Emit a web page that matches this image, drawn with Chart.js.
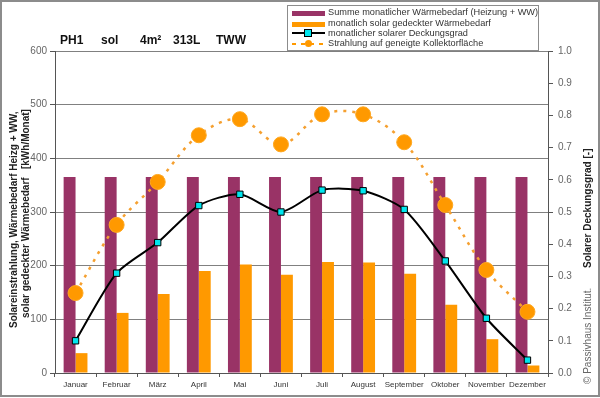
<!DOCTYPE html>
<html>
<head>
<meta charset="utf-8">
<script src="https://cdn.jsdelivr.net/npm/chart.js@4.4.1/dist/chart.umd.min.js"></script>
<style>
  body { margin:0; background:#fff; font-family:"Liberation Sans", Arial, sans-serif; }
  #wrap { position:relative; width:600px; height:398px; overflow:hidden; }
  #frame { position:absolute; left:0; top:0; width:596px; height:393px; border:2px solid #8c8c8c; pointer-events:none; }
  .title { position:absolute; top:33px; font-size:12px; font-weight:bold; color:#111; }
  #legend { position:absolute; left:287px; top:5px; width:250px; height:44px; border:1px solid #8c8c8c; background:#fff; font-size:9.2px; color:#333; }
  .li { position:absolute; left:40px; white-space:nowrap; }
  .sw { position:absolute; left:4px; width:33px; }
  .vt { position:absolute; white-space:nowrap; transform-origin:0 0; transform:rotate(-90deg); }
</style>
</head>
<body>
<div id="wrap">
  <canvas id="chart" width="600" height="398"></canvas>
  <div class="title" style="left:60px">PH1</div>
  <div class="title" style="left:101px">sol</div>
  <div class="title" style="left:140px">4m²</div>
  <div class="title" style="left:173px">313L</div>
  <div class="title" style="left:216px">TWW</div>

  <div id="legend">
    <div class="sw" style="top:5px;height:5px;background:#993366"></div>
    <div class="li" style="top:1px">Summe monatlicher Wärmebedarf (Heizung + WW)</div>
    <div class="sw" style="top:16px;height:5px;background:#ff9900"></div>
    <div class="li" style="top:12px">monatlich solar gedeckter Wärmebedarf</div>
    <div class="sw" style="top:26px;height:2px;background:#000"></div>
    <div style="position:absolute;left:16px;top:23px;width:6px;height:6px;background:#00e5ee;border:1px solid #000"></div>
    <div class="li" style="top:22px">monatlicher solarer Deckungsgrad</div>
    <div class="sw" style="top:37px;height:2px;background:repeating-linear-gradient(90deg,#ff9900 0 4px,transparent 4px 9px)"></div>
    <div style="position:absolute;left:17px;top:34px;width:7px;height:7px;border-radius:50%;background:#ff9900"></div>
    <div class="li" style="top:32px">Strahlung auf geneigte Kollektorfläche</div>
  </div>

  <div class="vt" style="left:8px;top:328px;font-size:10px;font-weight:bold;color:#222">Solareinstrahlung, Wärmebedarf Heizg + WW,</div>
  <div class="vt" style="left:20px;top:318px;font-size:10px;font-weight:bold;color:#222">solar gedeckter Wärmebedarf&nbsp;&nbsp;&nbsp;[kWh/Monat]</div>
  <div class="vt" style="left:582px;top:268px;font-size:10px;font-weight:bold;color:#222">Solarer Deckungsgrad [-]</div>
  <div class="vt" style="left:582px;top:384px;font-size:10px;color:#666">© Passivhaus Institut.</div>
  <div id="frame"></div>
</div>
<script>
const months = ['Januar','Februar','März','April','Mai','Juni','Juli','August','September','Oktober','November','Dezember'];
const waermebedarf = [365,365,365,365,365,365,365,365,365,365,365,365];
const solarGedeckt = [37,112,147,190,202,183,207,206,185,127,63,14];
const deckungsgrad = [0.10,0.31,0.405,0.52,0.555,0.50,0.568,0.566,0.508,0.348,0.17,0.04];
const strahlung = [149,276,356,443,473,426,482,482,430,313,192,114];
const leftTicks = [0,100,200,300,400,500,600];
const rightTicks = [0,0.1,0.2,0.3,0.4,0.5,0.6,0.7,0.8,0.9,1.0];

const tickFont = { family:'"Liberation Sans", Arial, sans-serif', size:10 };

new Chart(document.getElementById('chart'), {
  type: 'bar',
  data: {
    labels: months,
    datasets: [
      { type:'line', label:'Strahlung auf geneigte Kollektorfläche', data:strahlung, yAxisID:'y',
        borderColor:'#f5a030', borderWidth:2.5, borderDash:[3,6], fill:false, tension:0.35,
        pointStyle:'circle', pointRadius:7.5, pointBackgroundColor:'#ff9900', pointBorderColor:'#ffa820', pointBorderWidth:1, order:1 },
      { type:'line', label:'monatlicher solarer Deckungsgrad', data:deckungsgrad, yAxisID:'y1',
        borderColor:'#000', borderWidth:2, fill:false, tension:0.25,
        pointStyle:'rect', pointRadius:4.5, pointBackgroundColor:'#00e5ee', pointBorderColor:'#000', pointBorderWidth:1, order:0 },
      { label:'Summe monatlicher Wärmebedarf (Heizung + WW)', data:waermebedarf, yAxisID:'y',
        backgroundColor:'#993366', barPercentage:1, categoryPercentage:0.58, order:2 },
      { label:'monatlich solar gedeckter Wärmebedarf', data:solarGedeckt, yAxisID:'y',
        backgroundColor:'#ff9900', barPercentage:1, categoryPercentage:0.58, order:3 }
    ]
  },
  options: {
    responsive:false,
    animation:false,
    devicePixelRatio:1,
    layout:{ padding:{ top:51, left:0, right:0, bottom:0 } },
    plugins:{ legend:{ display:false }, tooltip:{ enabled:false } },
    scales:{
      x:{
        offset:true,
        grid:{ offset:true, drawOnChartArea:false, color:'#555', tickLength:4 },
        border:{ color:'#555', width:1 },
        ticks:{ color:'#333', font:{ family:tickFont.family, size:8 }, padding:3, maxRotation:0, autoSkip:false },
        afterFit:(s)=>{ s.height = 25; }
      },
      y:{
        position:'left', min:0, max:600,
        afterBuildTicks:(s)=>{ s.ticks = leftTicks.map(v=>({value:v})); },
        grid:{ color:(c)=> c.tick && c.tick.value === 0 ? 'rgba(0,0,0,0)' : '#808080', tickColor:'#555', tickLength:5 },
        border:{ color:'#555', width:1 },
        ticks:{ color:'#666', font:tickFont, padding:3 },
        afterFit:(s)=>{ s.width = 55; }
      },
      y1:{
        position:'right', min:0, max:1,
        afterBuildTicks:(s)=>{ s.ticks = rightTicks.map(v=>({value:v})); },
        grid:{ drawOnChartArea:false, color:'#555', tickLength:5 },
        border:{ color:'#555', width:1 },
        ticks:{ color:'#666', font:tickFont, padding:5, callback:(v)=>Number(v).toFixed(1) },
        afterFit:(s)=>{ s.width = 52; }
      }
    }
  }
});
</script>
</body>
</html>
